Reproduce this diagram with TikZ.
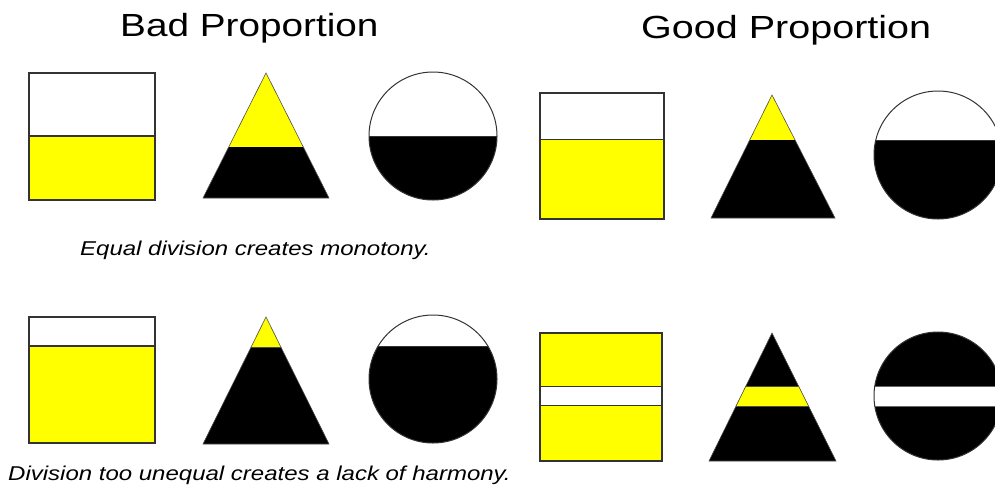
\documentclass[tikz,border=0pt]{standalone}
\usepackage{fontspec}
\setmainfont{Liberation Sans}
\usetikzlibrary{calc}
\definecolor{pureyellow}{RGB}{255,255,0}
\begin{document}
\begin{tikzpicture}[x=1pt,y=-1pt,
  boxline/.style={draw=black!80, line width=1.2pt},
  triline/.style={draw=black!70, line width=0.6pt},
  circline/.style={draw=black!80, line width=1pt},
  title/.style={anchor=base west, inner sep=0pt, font=\fontsize{32}{38}\selectfont},
  caption/.style={anchor=base west, inner sep=0pt, font=\fontsize{20}{24}\selectfont\itshape}]
\useasboundingbox (0,0) rectangle (995,488);
\clip (0,0) rectangle (995,488);
\fill[white] (0,0) rectangle (995,488);

% ---------- titles and captions
\node[title] (bad) at (120,36) {\scalebox{1.21}[1]{Bad Proportion}};
\node[title] (good) at (641,38) {\scalebox{1.235}[1]{Good Proportion}};
\node[caption] (equal) at (80,255) {\scalebox{1.2}[1]{Equal division creates monotony.}};
\node[caption] (unequal) at (8,480) {\scalebox{1.2}[1]{Division too unequal creates a lack of harmony.}};

% ---------- Bad, row 1
\fill[pureyellow] (29,136) rectangle (155,200);
\draw[boxline] (29,73) rectangle (155,200);
\draw[boxline] (29,136) -- (155,136);

\begin{scope}
  \clip (266,73) -- (329,198) -- (203,198) -- cycle;
  \fill[pureyellow] (200,70) rectangle (332,147);
  \fill[black] (200,147) rectangle (332,200);
\end{scope}
\draw[triline] (266,73) -- (329,198) -- (203,198) -- cycle;

\begin{scope}
  \clip (433,136) circle[radius=64pt];
  \fill[black] (365,136) rectangle (501,204);
  \draw[circline] (365,136) -- (501,136);
\end{scope}
\draw[circline] (433,136) circle[radius=64pt];

% ---------- Good, row 1
\fill[pureyellow] (540,139.5) rectangle (664,219);
\draw[boxline] (540,93) rectangle (664,219);
\draw[boxline] (540,139.5) -- (664,139.5);

\begin{scope}
  \clip (772,95) -- (835,218) -- (711,218) -- cycle;
  \fill[pureyellow] (705,90) rectangle (840,140);
  \fill[black] (705,140) rectangle (840,222);
\end{scope}
\draw[triline] (772,95) -- (835,218) -- (711,218) -- cycle;

\begin{scope}
  \clip (938,155) circle[radius=64pt];
  \fill[black] (870,140) rectangle (1006,223);
  \draw[circline] (870,140) -- (1006,140);
\end{scope}
\draw[circline] (938,155) circle[radius=64pt];

% ---------- Bad, row 2
\fill[pureyellow] (29,346) rectangle (155,443);
\draw[boxline] (29,317) rectangle (155,443);
\draw[boxline] (29,346) -- (155,346);

\begin{scope}
  \clip (266,317) -- (329,444) -- (203,444) -- cycle;
  \fill[pureyellow] (200,314) rectangle (332,347);
  \fill[black] (200,347) rectangle (332,447);
  \draw[triline] (200,347) -- (332,347);
\end{scope}
\draw[triline] (266,317) -- (329,444) -- (203,444) -- cycle;

\begin{scope}
  \clip (433,379) circle[radius=64pt];
  \fill[black] (365,346) rectangle (501,447);
  \draw[circline] (365,346) -- (501,346);
\end{scope}
\draw[circline] (433,379) circle[radius=64pt];

% ---------- Good, row 2
\fill[pureyellow] (540,333) rectangle (662,386.5);
\fill[pureyellow] (540,405.5) rectangle (662,461);
\draw[boxline] (540,333) rectangle (662,461);
\draw[boxline] (540,386.5) -- (662,386.5);
\draw[boxline] (540,405.5) -- (662,405.5);

\begin{scope}
  \clip (772,333) -- (836,461) -- (709,461) -- cycle;
  \fill[black] (705,330) rectangle (840,465);
  \fill[pureyellow] (705,386) rectangle (840,406);
  \draw[triline] (705,386) -- (840,386);
  \draw[triline] (705,406) -- (840,406);
\end{scope}
\draw[triline] (772,333) -- (836,461) -- (709,461) -- cycle;

\begin{scope}
  \clip (938,396) circle[radius=64pt];
  \fill[black] (870,328) rectangle (1006,464);
  \fill[white] (870,386) rectangle (1006,406);
  \draw[circline, black!60] (870,386) -- (1006,386);
  \draw[circline, black!60] (870,406) -- (1006,406);
\end{scope}
\draw[circline] (938,396) circle[radius=64pt];
\end{tikzpicture}
\end{document}
